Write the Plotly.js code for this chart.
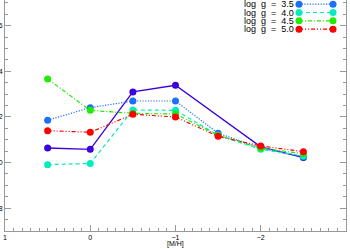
<!DOCTYPE html>
<html>
<head>
<meta charset="utf-8">
<script src="https://cdn.plot.ly/plotly-3.0.1.min.js"></script>
<style>html,body{margin:0;padding:0;background:#fff;}#chart{width:350px;height:249px;}</style>
</head>
<body>
<div id="chart"></div>
<script>
// [M/H] values
const metal = [0.5, 0, -0.5, -1, -1.5, -2, -2.5];
const metalPurple = [0.5, 0, -0.5, -1, -2, -2.5];
// series values
const purpleVals = [1.064, 1.058, 1.310, 1.339, 1.069, 1.022];
const g35 = [1.186, 1.241, 1.270, 1.270, 1.129, 1.063, 1.026];
const g40 = [0.991, 0.996, 1.231, 1.229, 1.120, 1.058, 1.029];
const g45 = [1.367, 1.229, 1.216, 1.213, 1.120, 1.063, 1.039];
const g50 = [1.140, 1.133, 1.212, 1.200, 1.115, 1.073, 1.048];
const legendLabels = ['log\u00a0\u00a0g\u00a0\u00a0=\u00a0\u00a03.5', 'log\u00a0\u00a0g\u00a0\u00a0=\u00a0\u00a04.0', 'log\u00a0\u00a0g\u00a0\u00a0=\u00a0\u00a04.5', 'log\u00a0\u00a0g\u00a0\u00a0=\u00a0\u00a05.0'];
const xTitle = '[M/H]';

const colors = ['rgb(30,110,255)', 'rgb(0,238,190)', 'rgb(30,238,0)', 'rgb(255,0,0)'];
const dashes = ['1.2px,1.5px', '4px,3px', '4px,2px,1px,2px', '4px,2px,1px,2px,1px,2px'];
const seriesVals = [g35, g40, g45, g50];

const traces = [{
  x: metalPurple, y: purpleVals, type: 'scatter', mode: 'lines+markers',
  line: {color: 'rgb(60,0,220)', width: 1.3},
  marker: {color: 'rgb(60,0,220)', size: 7}, showlegend: false
}];
seriesVals.forEach((v, i) => {
  traces.push({
    x: metal, y: v, type: 'scatter', mode: 'lines+markers', name: legendLabels[i],
    line: {color: colors[i], width: 1.2, dash: dashes[i]},
    marker: {color: colors[i], size: 7}, showlegend: false
  });
});

// custom legend (text left, sample right)
const W = 341, H = 231, L = 5, B = 231;
const px = x => (x - L) / W, py = y => (B - y) / H;
const rowY = [4.2, 12.5, 20.8, 29.2];
const annotations = [], shapes = [];
legendLabels.forEach((lab, i) => {
  annotations.push({xref: 'paper', yref: 'paper', x: px(294.5), y: py(rowY[i]), xanchor: 'right', yanchor: 'middle',
    text: lab, showarrow: false, borderpad: 0, font: {family: 'Liberation Sans, Arial, sans-serif', size: 9, color: '#000'}});
  shapes.push({type: 'line', xref: 'paper', yref: 'paper', x0: px(299), x1: px(333), y0: py(rowY[i]), y1: py(rowY[i]),
    line: {color: colors[i], width: 1.2, dash: dashes[i]}});
  [299, 333].forEach(cx => {
    shapes.push({type: 'circle', xref: 'paper', yref: 'paper', xsizemode: 'pixel', ysizemode: 'pixel',
      xanchor: px(cx), yanchor: py(rowY[i]), x0: -3.5, x1: 3.5, y0: -3.5, y1: 3.5,
      fillcolor: colors[i], line: {width: 0}});
  });
});
annotations.push({xref: 'paper', yref: 'paper', x: px(175.5), y: py(244), xanchor: 'center', yanchor: 'middle',
  text: xTitle, showarrow: false, borderpad: 0, font: {family: 'Liberation Sans, Arial, sans-serif', size: 7, color: '#000'}});

const layout = {
  width: 350, height: 249,
  margin: {l: 5, r: 4, t: 0, b: 18, pad: 0},
  paper_bgcolor: '#fff', plot_bgcolor: '#fff',
  showlegend: false,
  font: {family: 'Liberation Sans, Arial, sans-serif', size: 7, color: '#000'},
  xaxis: {
    range: [1, -3], dtick: 1, tick0: 0, showgrid: false, zeroline: false,
    showline: true, linecolor: '#999', linewidth: 1,
    ticks: 'inside', ticklen: 6, tickcolor: '#999', tickwidth: 1,
    minor: {dtick: 0.1, ticks: 'inside', ticklen: 3, tickcolor: '#999', showgrid: false},
    tickfont: {size: 7, color: '#000'}, automargin: false
  },
  yaxis: {
    range: [0.7, 1.713], dtick: 0.2, tick0: 0, tickformat: '.1f', showgrid: false, zeroline: false,
    showline: true, linecolor: '#999', linewidth: 1, mirror: 'ticks',
    ticks: 'inside', ticklen: 6, tickcolor: '#999', tickwidth: 1,
    minor: {dtick: 0.05, ticks: 'inside', ticklen: 3, tickcolor: '#999', showgrid: false},
    tickfont: {size: 7, color: '#000'}, automargin: false
  },
  annotations: annotations,
  shapes: shapes
};

Plotly.newPlot('chart', traces, layout, {displayModeBar: false, staticPlot: true});
</script>
</body>
</html>
